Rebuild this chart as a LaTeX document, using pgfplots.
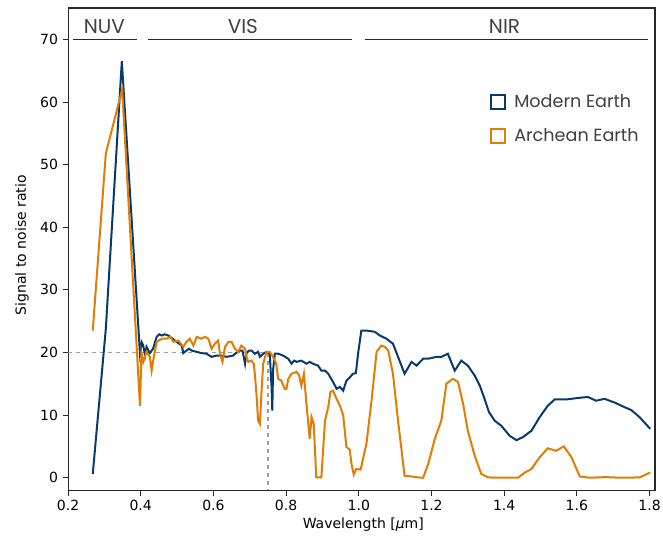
\documentclass[border=0pt]{standalone}
\usepackage{pgfplots}
\pgfplotsset{compat=1.18}
\usepackage{fontspec}
\setmainfont{DejaVu Sans}
\newfontfamily\thinfont{Poppins}
\definecolor{modern}{RGB}{8,58,110}
\definecolor{archean}{RGB}{226,124,4}
\definecolor{spine}{RGB}{40,40,40}
\begin{document}
\begin{tikzpicture}
\useasboundingbox (-51pt,-35.25pt) rectangle (446pt,367.5pt);
\begin{axis}[
  scale only axis, width=440pt, height=361.5pt,
  at={(0,0)}, anchor=south west,
  xmin=0.2, xmax=1.815, ymin=-2, ymax=75,
  xtick={0.2,0.4,...,1.8}, ytick={0,10,...,70},
  xticklabel style={/pgf/number format/.cd, fixed, fixed zerofill, precision=1},
  /pgf/number format/assume math mode=true,
  tick align=outside, xtick pos=bottom, ytick pos=left,
  major tick length=4pt,
  every tick/.style={spine, line width=0.6pt},
  axis line style={spine, line width=0.8pt},
  tick label style={font=\fontsize{10.5}{12}\selectfont, text=black},
  label style={font=\fontsize{10.5}{12}\selectfont},
  xlabel={Wavelength [{\itshape μ}m]},
  ylabel={Signal to noise ratio},
  xlabel style={at={(axis description cs:0.503,-0.0705)}, anchor=center},
  ylabel style={at={(axis description cs:-0.0784,0.508)}, anchor=center, rotate=0},
  legend style={draw=none, fill=none, at={(axis description cs:0.713,0.832)}, anchor=north west,
    font=\thinfont\fontsize{13.2}{15}\selectfont, text=black!75, row sep=10pt,
    /tikz/every odd column/.append style={column sep=5pt}},
  legend cell align=left,
  clip=false,
]
\addplot[gray!75, dashed, line width=0.9pt, forget plot] coordinates {(0.2,20) (0.75,20) (0.75,-2)};

\addplot[modern, line width=1.5pt, forget plot] coordinates {
(0.268,0.6) (0.304,23.8) (0.348,66.5) (0.398,19.8) (0.403,21.6) (0.407,21.1) (0.412,19.5) (0.416,20.9)
(0.425,19.9) (0.434,20.6) (0.440,21.8) (0.444,22.5) (0.451,22.9) (0.458,22.7) (0.466,22.9) (0.476,22.7)
(0.485,22.3) (0.499,21.7) (0.508,21.3) (0.513,21.1) (0.517,19.9) (0.526,20.3) (0.533,20.6) (0.540,20.3)
(0.554,20.1) (0.567,19.9) (0.581,19.8) (0.595,19.3) (0.609,19.5) (0.622,19.5) (0.636,19.3) (0.654,19.5)
(0.662,19.9) (0.673,20.3) (0.680,20.3) (0.687,18.2) (0.691,19.9) (0.698,20.3) (0.705,20.3) (0.714,19.8)
(0.723,20.1) (0.728,19.3) (0.737,19.8) (0.746,20.1) (0.755,19.8) (0.760,14.5) (0.762,10.7) (0.764,17.1)
(0.769,19.8) (0.778,19.8) (0.792,19.5) (0.806,19.0) (0.815,18.2) (0.822,18.7) (0.829,18.5) (0.842,18.7)
(0.856,18.2) (0.865,18.5) (0.874,18.2) (0.888,17.9) (0.897,17.1) (0.907,17.1) (0.916,16.6) (0.929,15.3)
(0.939,14.2) (0.948,14.5) (0.957,13.9) (0.966,15.5) (0.975,16.0) (0.984,16.6) (0.992,16.7) (0.998,19.8)
(1.007,23.5) (1.021,23.5) (1.044,23.3) (1.058,22.7) (1.076,22.2) (1.094,21.4) (1.108,19.3) (1.126,16.6)
(1.145,18.5) (1.159,17.9) (1.177,19.0) (1.191,19.0) (1.214,19.3) (1.227,19.3) (1.245,19.8) (1.264,17.1)
(1.282,18.7) (1.300,17.9) (1.319,16.3) (1.333,14.7) (1.346,12.6) (1.358,10.5) (1.374,9.1) (1.392,8.3)
(1.415,6.7) (1.434,6.0) (1.452,6.5) (1.475,7.5) (1.498,9.7) (1.520,11.5) (1.539,12.5) (1.571,12.5)
(1.598,12.7) (1.630,12.9) (1.653,12.3) (1.676,12.6) (1.704,12.0) (1.726,11.4) (1.750,10.8) (1.772,9.7)
(1.802,7.8)};

\addplot[archean, line width=1.5pt, forget plot] coordinates {
(0.268,23.5) (0.304,51.8) (0.349,62.0) (0.398,11.5) (0.402,19.9) (0.407,18.5) (0.416,20.1) (0.425,19.3)
(0.430,17.1) (0.436,19.3) (0.444,21.7) (0.458,22.2) (0.472,22.2) (0.481,22.5) (0.490,21.7) (0.504,21.9)
(0.517,20.9) (0.526,21.7) (0.535,22.2) (0.545,21.1) (0.554,22.5) (0.567,22.2) (0.577,22.5) (0.586,22.2)
(0.595,20.6) (0.604,21.4) (0.613,21.9) (0.618,19.8) (0.625,18.5) (0.632,20.9) (0.641,21.7) (0.650,21.7)
(0.659,20.6) (0.668,20.1) (0.677,21.1) (0.687,20.6) (0.691,19.3) (0.696,18.5) (0.705,18.7) (0.711,18.2)
(0.714,16.6) (0.719,12.9) (0.723,9.1) (0.728,8.6) (0.732,13.4) (0.737,18.2) (0.746,20.1) (0.755,20.1)
(0.764,19.3) (0.773,18.2) (0.778,15.8) (0.787,15.5) (0.796,14.2) (0.801,14.2) (0.806,15.8) (0.815,16.6)
(0.829,16.9) (0.836,16.3) (0.842,14.7) (0.849,16.6) (0.856,11.8) (0.865,6.2) (0.870,9.7) (0.876,8.6)
(0.883,0.05) (0.897,0.05) (0.907,9.1) (0.916,11.3) (0.922,13.7) (0.929,13.9) (0.939,12.6) (0.948,11.5)
(0.957,10.0) (0.966,4.9) (0.975,4.5) (0.980,2.2) (0.986,0.5) (0.993,1.4) (1.005,1.3) (1.021,5.4)
(1.035,12.3) (1.049,20.1) (1.062,21.1) (1.072,20.9) (1.081,20.3) (1.094,16.6) (1.108,9.1) (1.126,0.3)
(1.145,0.2) (1.163,0.05) (1.177,0.0) (1.191,2.2) (1.209,6.2) (1.227,9.1) (1.241,15.0) (1.259,15.8)
(1.273,15.3) (1.287,11.8) (1.300,7.5) (1.319,3.5) (1.337,0.6) (1.356,0.05) (1.388,0.0) (1.438,0.0)
(1.456,0.8) (1.475,1.4) (1.498,3.3) (1.520,4.7) (1.543,4.3) (1.564,5.0) (1.585,3.3) (1.608,0.2)
(1.635,0.0) (1.680,0.1) (1.720,0.0) (1.773,0.05) (1.802,0.85)};

\addlegendimage{only marks, mark=square, mark size=5.3pt, line width=1.5pt, color=modern}
\addlegendentry{Modern Earth}
\addlegendimage{only marks, mark=square, mark size=5.3pt, line width=1.5pt, color=archean}
\addlegendentry{Archean Earth}

\draw[spine, line width=1pt] (axis cs:0.214,70) -- (axis cs:0.390,70);
\draw[spine, line width=1pt] (axis cs:0.420,70) -- (axis cs:0.980,70);
\draw[spine, line width=1pt] (axis cs:1.017,70) -- (axis cs:1.795,70);
\node[font=\thinfont\fontsize{15}{18}\selectfont, text=black!75, anchor=base] at (axis cs:0.300,70.9) {NUV};
\node[font=\thinfont\fontsize{15}{18}\selectfont, text=black!75, anchor=base] at (axis cs:0.681,70.9) {VIS};
\node[font=\thinfont\fontsize{15}{18}\selectfont, text=black!75, anchor=base] at (axis cs:1.401,70.9) {NIR};
\end{axis}
\end{tikzpicture}
\end{document}
